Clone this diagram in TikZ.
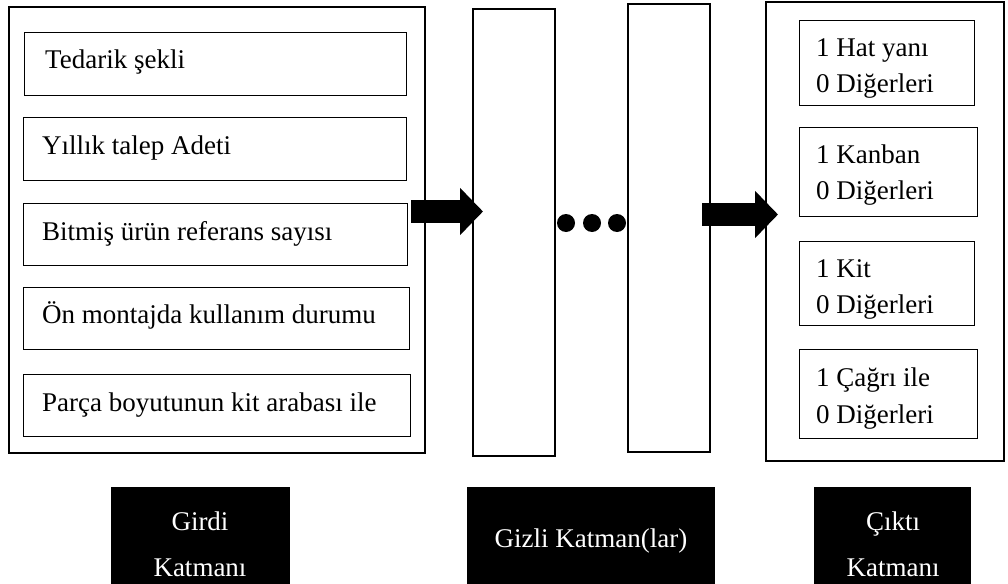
\documentclass[tikz,border=0pt]{standalone}
\usepackage{fontspec}
\setmainfont{Liberation Serif}
\usetikzlibrary{arrows.meta}
\begin{document}
\begin{tikzpicture}[x=1pt,y=-1pt,
  box/.style={draw=black, anchor=north west, inner sep=0pt, outer sep=0pt},
  thickbox/.style={box, line width=2.5pt},
  thinbox/.style={box, line width=1pt},
  blackbox/.style={box, draw=none, fill=black},
  txt/.style={font=\fontsize{27}{36}\selectfont, inner sep=0pt, anchor=base west},
  lbltxt/.style={font=\fontsize{27}{36}\selectfont, inner sep=0pt, anchor=base, text=white},
  blockarrow/.style={line width=23pt, -{Triangle[length=23pt,width=46pt]}},
  dot/.style={circle, fill=black, minimum size=18pt, inner sep=0pt}]
\useasboundingbox (0,0) rectangle (1008,583);
\fill[white] (0,0) rectangle (1008,583);
% input layer
\node[thickbox, minimum width=416pt, minimum height=446pt] (in) at (9,7) {};
\node[thinbox, minimum width=382pt, minimum height=63pt] (i1) at (24,33) {};
\node[thinbox, minimum width=383pt, minimum height=62pt] (i2) at (23,118) {};
\node[thinbox, minimum width=384pt, minimum height=62pt] (i3) at (23,203) {};
\node[thinbox, minimum width=386pt, minimum height=62pt] (i4) at (23,287) {};
\node[thinbox, minimum width=387pt, minimum height=62pt] (i5) at (23,374) {};
\node[txt] (t1) at (45,69) {Tedarik şekli};
\node[txt] (t2) at (42,154) {Yıllık talep Adeti};
\node[txt] (t3) at (42,240) {Bitmiş ürün referans sayısı};
\node[txt] (t4) at (42,323) {Ön montajda kullanım durumu};
\node[txt] (t5) at (42,411) {Parça boyutunun kit arabası ile};
% hidden layers
\node[thickbox, minimum width=82pt, minimum height=447pt] (hA) at (473,9) {};
\node[thickbox, minimum width=82pt, minimum height=448pt] (hB) at (628,4) {};
\node[dot] (d1) at (566,223) {};
\node[dot] (d2) at (592,223) {};
\node[dot] (d3) at (617,223) {};
% output layer
\node[thickbox, minimum width=238pt, minimum height=459pt] (out) at (766,2) {};
\node[thinbox, minimum width=175pt, minimum height=85pt] (o1) at (799,21) {};
\node[thinbox, minimum width=178pt, minimum height=89pt] (o2) at (799,127) {};
\node[thinbox, minimum width=175pt, minimum height=84pt] (o3) at (799,241) {};
\node[thinbox, minimum width=178pt, minimum height=89pt] (o4) at (799,349) {};
\node[txt] (u1a) at (816,57) {1 Hat yanı};
\node[txt] (u1b) at (816,93) {0 Diğerleri};
\node[txt] (u2a) at (816,163) {1 Kanban};
\node[txt] (u2b) at (816,199) {0 Diğerleri};
\node[txt] (u3a) at (816,277) {1 Kit};
\node[txt] (u3b) at (816,313) {0 Diğerleri};
\node[txt] (u4a) at (816,386) {1 Çağrı ile};
\node[txt] (u4b) at (816,423) {0 Diğerleri};
% arrows
\coordinate (a1s) at (411,211.5);
\coordinate (a1e) at (483,211.5);
\coordinate (a2s) at (702,214.5);
\coordinate (a2e) at (778,214.5);
\draw[blockarrow] (a1s) -- (a1e);
\draw[blockarrow] (a2s) -- (a2e);
% layer labels
\node[blackbox, minimum width=179pt, minimum height=110pt] (L1) at (111,487) {};
\node[blackbox, minimum width=248pt, minimum height=110pt] (L2) at (467,487) {};
\node[blackbox, minimum width=157pt, minimum height=110pt] (L3) at (814,487) {};
\node[lbltxt] (l1a) at (200,530) {Girdi};
\node[lbltxt] (l1b) at (200,576) {Katmanı};
\node[lbltxt] (l2) at (591,547) {Gizli Katman(lar)};
\node[lbltxt] (l3a) at (893,530) {Çıktı};
\node[lbltxt] (l3b) at (893,576) {Katmanı};
\end{tikzpicture}
\end{document}
